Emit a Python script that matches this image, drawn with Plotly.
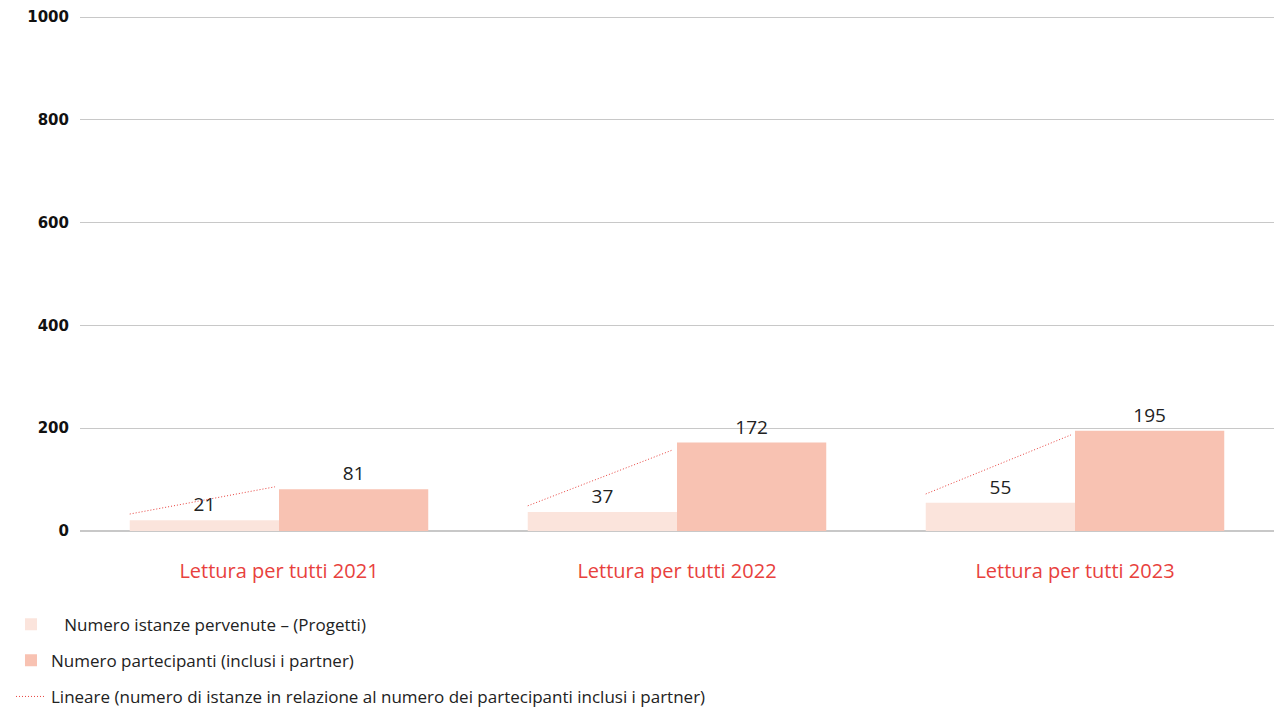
"""Lettura per tutti: istanze vs partecipanti."""

import plotly.graph_objects as go

# Data
CATEGORIES = ["Lettura per tutti 2021", "Lettura per tutti 2022", "Lettura per tutti 2023"]
ISTANZE = [21, 37, 55]
PARTECIPANTI = [81, 172, 195]
# dotted linear trend per group: value at start / end of the segment
TREND_START = [33, 49, 72]
TREND_END = [86, 158, 187]
Y_TICKS = [0, 200, 400, 600, 800, 1000]

NAME_ISTANZE = "\u00a0\u00a0\u00a0Numero istanze pervenute – (Progetti)"
NAME_PARTECIPANTI = "Numero partecipanti (inclusi i partner)"
NAME_TREND = "Lineare (numero di istanze in relazione al numero dei partecipanti inclusi i partner)"

COLOR_LIGHT = "#fbe4dc"
COLOR_DARK = "#f8c2b2"
COLOR_RED = "#e8413d"
FONT = "'Open Sans', 'Noto Sans', sans-serif"

BAR_HALF = 0.375  # each bar width in category units (bargap 0.25)

fig = go.Figure()

fig.add_trace(
    go.Bar(
        x=CATEGORIES,
        y=ISTANZE,
        name=NAME_ISTANZE,
        marker=dict(color=COLOR_LIGHT, line=dict(width=0)),
        text=ISTANZE,
        textposition="outside",
        textfont=dict(size=19, color="#222222"),
        cliponaxis=False,
        legendgroup="a",
    )
)
fig.add_trace(
    go.Bar(
        x=CATEGORIES,
        y=PARTECIPANTI,
        name=NAME_PARTECIPANTI,
        marker=dict(color=COLOR_DARK, line=dict(width=0)),
        text=PARTECIPANTI,
        textposition="outside",
        textfont=dict(size=19, color="#222222"),
        cliponaxis=False,
        legendgroup="b",
    )
)

# Trend segments on an overlaid numeric axis
tx, ty = [], []
for i, (s, e) in enumerate(zip(TREND_START, TREND_END)):
    tx += [i - BAR_HALF, i - 0.01, None]
    ty += [s, e, None]

fig.add_trace(
    go.Scatter(
        x=tx,
        y=ty,
        xaxis="x2",
        mode="lines",
        name=NAME_TREND,
        line=dict(color=COLOR_RED, width=1, dash="1px,2px"),
        connectgaps=False,
        legendgroup="c",
        hoverinfo="skip",
    )
)

fig.update_layout(
    width=1274,
    height=709,
    margin=dict(l=80, r=0, t=15, b=178, autoexpand=False),
    paper_bgcolor="white",
    plot_bgcolor="white",
    font=dict(family=FONT, color="#222222"),
    barmode="group",
    bargap=0.25,
    bargroupgap=0,
    showlegend=True,
    legend=dict(
        x=-0.0578,
        xanchor="left",
        y=-0.1467,
        yanchor="top",
        orientation="v",
        traceorder="grouped",
        tracegroupgap=11,
        font=dict(size=17, color="#222222", family=FONT),
        bgcolor="rgba(0,0,0,0)",
    ),
    xaxis=dict(
        showgrid=False,
        showline=True,
        linecolor="#c8c8c8",
        linewidth=1,
        ticks="",
        tickfont=dict(size=20, color=COLOR_RED, family=FONT),
        ticklabelstandoff=22,
    ),
    xaxis2=dict(
        overlaying="x",
        range=[-0.5, 2.5],
        visible=False,
    ),
    yaxis=dict(
        range=[0, 1004],
        tickvals=Y_TICKS,
        showgrid=True,
        gridcolor="#c8c8c8",
        gridwidth=1,
        zeroline=True,
        zerolinecolor="#c8c8c8",
        tickfont=dict(size=15, color="#111111", family="'DejaVu Sans', sans-serif", weight="bold"),
        ticklabelstandoff=10,
    ),
)

fig.write_html(
    "out.html",
    config={"displayModeBar": False},
    post_script="document.body.style.margin='0';",
)
